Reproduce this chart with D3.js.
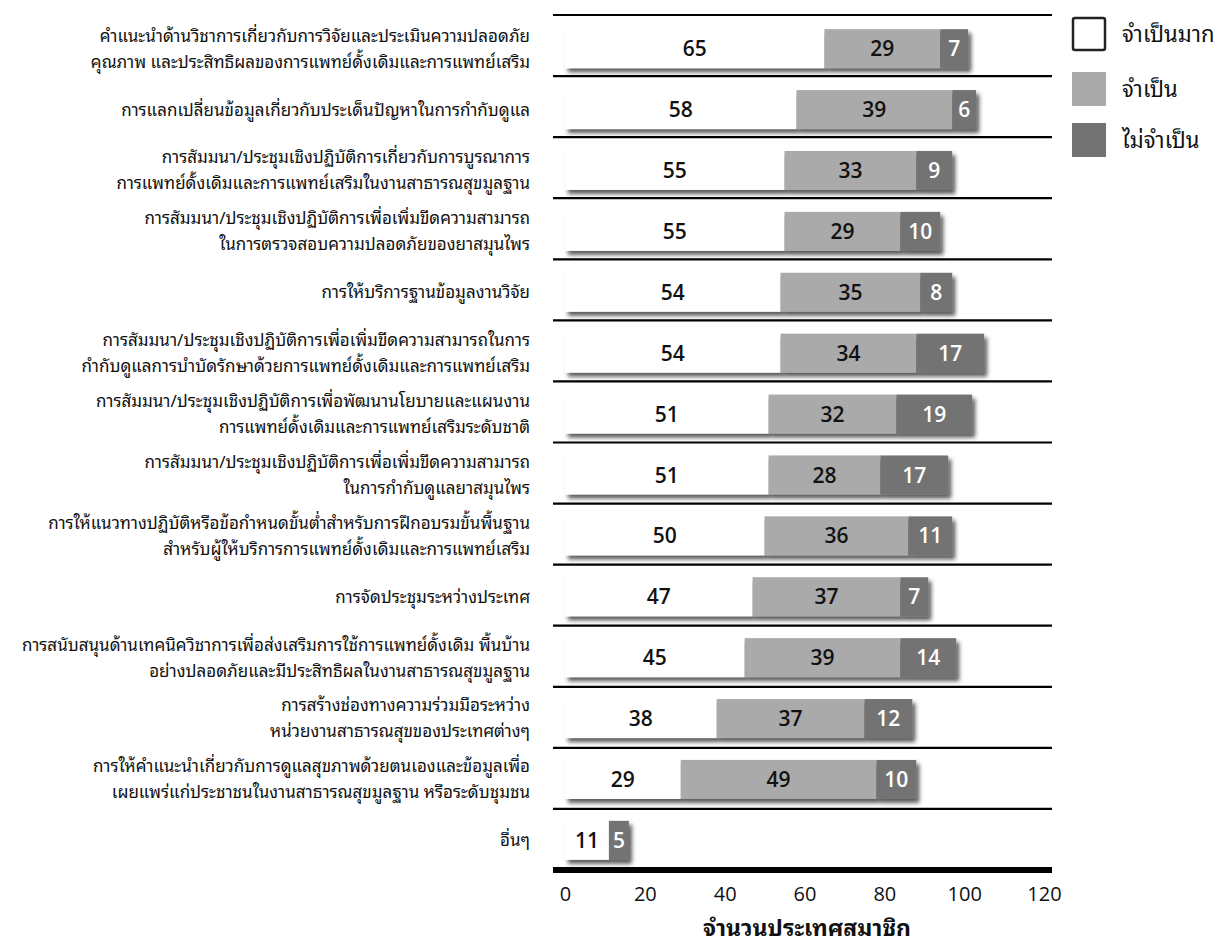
<!DOCTYPE html>
<html>
<head>
<meta charset="utf-8">
<script src="https://cdn.jsdelivr.net/npm/d3@7"></script>
<style>
  html, body { margin: 0; padding: 0; background: #fff; }
  svg { display: block; }
</style>
</head>
<body>
<svg id="chart" width="1220" height="945"></svg>
<script>
// ---- DATA ----
const categories = [
  ["คำแนะนำด้านวิชาการเกี่ยวกับการวิจัยและประเมินความปลอดภัย", "คุณภาพ และประสิทธิผลของการแพทย์ดั้งเดิมและการแพทย์เสริม"],
  ["การแลกเปลี่ยนข้อมูลเกี่ยวกับประเด็นปัญหาในการกำกับดูแล"],
  ["การสัมมนา/ประชุมเชิงปฏิบัติการเกี่ยวกับการบูรณาการ", "การแพทย์ดั้งเดิมและการแพทย์เสริมในงานสาธารณสุขมูลฐาน"],
  ["การสัมมนา/ประชุมเชิงปฏิบัติการเพื่อเพิ่มขีดความสามารถ", "ในการตรวจสอบความปลอดภัยของยาสมุนไพร"],
  ["การให้บริการฐานข้อมูลงานวิจัย"],
  ["การสัมมนา/ประชุมเชิงปฏิบัติการเพื่อเพิ่มขีดความสามารถในการ", "กำกับดูแลการบำบัดรักษาด้วยการแพทย์ดั้งเดิมและการแพทย์เสริม"],
  ["การสัมมนา/ประชุมเชิงปฏิบัติการเพื่อพัฒนานโยบายและแผนงาน", "การแพทย์ดั้งเดิมและการแพทย์เสริมระดับชาติ"],
  ["การสัมมนา/ประชุมเชิงปฏิบัติการเพื่อเพิ่มขีดความสามารถ", "ในการกำกับดูแลยาสมุนไพร"],
  ["การให้แนวทางปฏิบัติหรือข้อกำหนดขั้นต่ำสำหรับการฝึกอบรมขั้นพื้นฐาน", "สำหรับผู้ให้บริการการแพทย์ดั้งเดิมและการแพทย์เสริม"],
  ["การจัดประชุมระหว่างประเทศ"],
  ["การสนับสนุนด้านเทคนิควิชาการเพื่อส่งเสริมการใช้การแพทย์ดั้งเดิม พื้นบ้าน", "อย่างปลอดภัยและมีประสิทธิผลในงานสาธารณสุขมูลฐาน"],
  ["การสร้างช่องทางความร่วมมือระหว่าง", "หน่วยงานสาธารณสุขของประเทศต่างๆ"],
  ["การให้คำแนะนำเกี่ยวกับการดูแลสุขภาพด้วยตนเองและข้อมูลเพื่อ", "เผยแพร่แก่ประชาชนในงานสาธารณสุขมูลฐาน หรือระดับชุมชน"],
  ["อื่นๆ"]
];
const veryNecessary = [65, 58, 55, 55, 54, 54, 51, 51, 50, 47, 45, 38, 29, 11];
const necessary     = [29, 39, 33, 29, 35, 34, 32, 28, 36, 37, 39, 37, 49, 0];
const notNecessary  = [7, 6, 9, 10, 8, 17, 19, 17, 11, 7, 14, 12, 10, 5];
const seriesNames = ["จำเป็นมาก", "จำเป็น", "ไม่จำเป็น"];
const xTicks = [0, 20, 40, 60, 80, 100, 120];
const xTitle = "จำนวนประเทศสมาชิก";

// ---- BUILD ----
const colors = ["#ffffff", "#aaaaaa", "#737373"];
const textColors = ["#111", "#111", "#fff"];
const thaiFont = "'Noto Sans Thai Looped', Loma, Garuda, 'Noto Sans Thai', 'Noto Sans', Tahoma, sans-serif";
const numFont = "'Open Sans', 'Noto Sans', sans-serif";

const svg = d3.select("#chart");
const defs = svg.append("defs");
const f = defs.append("filter").attr("id", "shadow")
  .attr("x", "-10%").attr("y", "-30%").attr("width", "130%").attr("height", "180%");
f.append("feDropShadow").attr("dx", 3).attr("dy", 4).attr("stdDeviation", 2.2)
  .attr("flood-color", "#000").attr("flood-opacity", 0.65);

const x = d3.scaleLinear().domain([0, 120]).range([565, 1044]);
const idx = d3.range(categories.length);
const y = d3.scaleBand().domain(idx).range([15, 870]).paddingInner(0.36).paddingOuter(0.2);

const rows = idx.map(i => ({ i, vals: [veryNecessary[i], necessary[i], notNecessary[i]] }));
const stacked = d3.stack().keys([0, 1, 2]).value((d, k) => d.vals[k])(rows);

// horizontal separator lines at band boundaries
const boundaries = d3.range(categories.length + 1).map(k => 15 + k * (855 / categories.length));
svg.append("g").selectAll("line").data(boundaries).join("line")
  .attr("x1", 553).attr("x2", 1052)
  .attr("y1", d => d).attr("y2", d => d)
  .attr("stroke", "#000")
  .attr("stroke-width", (d, k) => k === boundaries.length - 1 ? 6 : 2.2);

// bars
const gBars = svg.append("g");
rows.forEach(r => {
  const g = gBars.append("g").attr("filter", "url(#shadow)");
  stacked.forEach((s, k) => {
    const d = s[r.i];
    if (d[1] - d[0] <= 0) return;
    g.append("rect")
      .attr("x", x(d[0]))
      .attr("y", y(r.i) + 2)
      .attr("width", x(d[1]) - x(d[0]))
      .attr("height", y.bandwidth())
      .attr("fill", colors[k]);
  });
});

// value labels
const gVals = svg.append("g");
stacked.forEach((s, k) => {
  s.forEach((d, i) => {
    if (d[1] - d[0] <= 0) return;
    gVals.append("text")
      .attr("x", (x(d[0]) + x(d[1])) / 2)
      .attr("y", y(i) + 2 + y.bandwidth() / 2)
      .attr("dy", "0.36em")
      .attr("text-anchor", "middle")
      .attr("font-family", numFont)
      .attr("font-weight", 600)
      .attr("font-size", 21)
      .attr("fill", textColors[k])
      .text(d[1] - d[0]);
  });
});

// category labels (each line its own text element)
const gLab = svg.append("g");
categories.forEach((lines, i) => {
  const cy = y(i) + 2 + y.bandwidth() / 2;
  const lh = 26;
  lines.forEach((ln, j) => {
    gLab.append("text")
      .attr("text-anchor", "end")
      .attr("font-family", thaiFont)
      .attr("font-size", 17)
      .attr("fill", "#111")
      .attr("x", 530)
      .attr("y", cy + (j - (lines.length - 1) / 2) * lh)
      .attr("dy", "0.35em")
      .text(ln);
  });
});

// x axis
const axis = d3.axisBottom(x).tickValues(xTicks).tickSize(0).tickPadding(0);
const gAx = svg.append("g").attr("transform", "translate(0,894)").call(axis);
gAx.select(".domain").remove();
gAx.selectAll("text")
  .attr("dy", "0.36em")
  .attr("font-family", numFont)
  .attr("font-size", 20)
  .attr("fill", "#111");

svg.append("text")
  .attr("x", 807).attr("y", 936)
  .attr("text-anchor", "middle")
  .attr("font-family", thaiFont)
  .attr("font-weight", 700)
  .attr("font-size", 23)
  .attr("fill", "#111")
  .text(xTitle);

// legend
const legY = [17, 72, 123];
const gLeg = svg.append("g");
seriesNames.forEach((name, k) => {
  gLeg.append("rect")
    .attr("x", k === 0 ? 1073 : 1072).attr("y", legY[k] + (k === 0 ? 1 : 0))
    .attr("width", k === 0 ? 32 : 34).attr("height", k === 0 ? 32 : 34)
    .attr("rx", k === 0 ? 2 : 0)
    .attr("fill", colors[k])
    .attr("stroke", k === 0 ? "#222" : "none")
    .attr("stroke-width", 2.5);
  gLeg.append("text")
    .attr("x", 1122).attr("y", legY[k] + 17).attr("dy", "0.35em")
    .attr("font-family", thaiFont)
    .attr("font-size", 22)
    .attr("fill", "#111")
    .text(name);
});
</script>
</body>
</html>
